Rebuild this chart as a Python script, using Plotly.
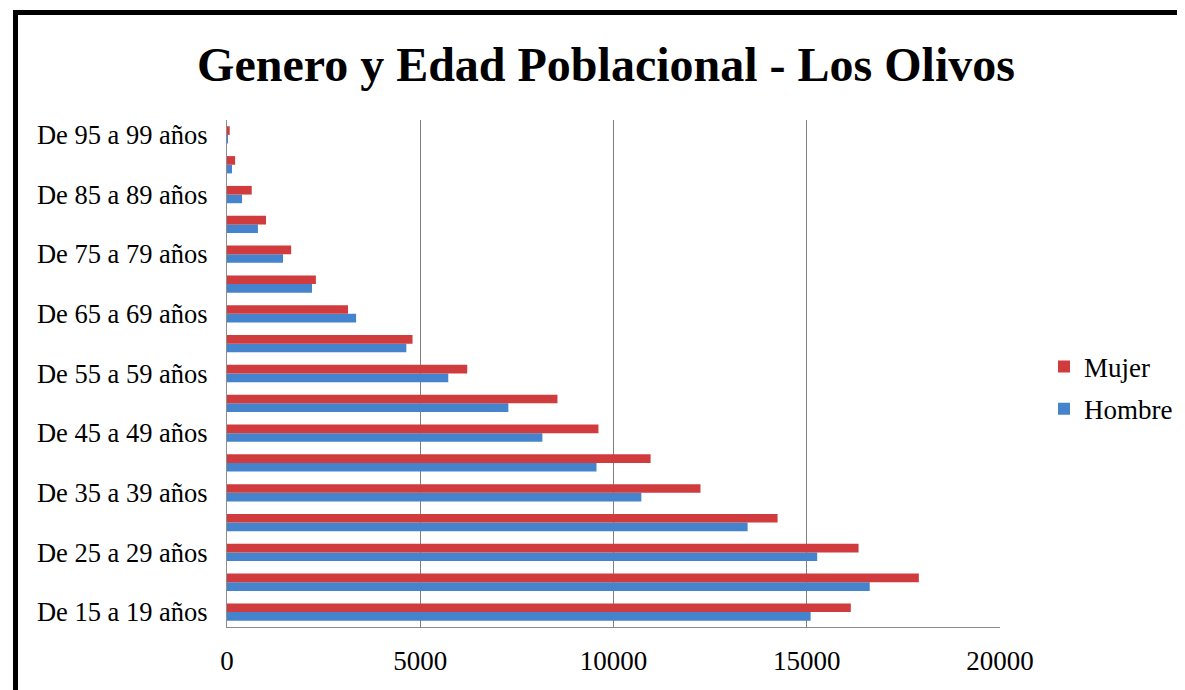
import plotly.graph_objects as go

categories = ["De 15 a 19 años", "De 20 a 24 años", "De 25 a 29 años", "De 30 a 34 años",
              "De 35 a 39 años", "De 40 a 44 años", "De 45 a 49 años", "De 50 a 54 años",
              "De 55 a 59 años", "De 60 a 64 años", "De 65 a 69 años", "De 70 a 74 años",
              "De 75 a 79 años", "De 80 a 84 años", "De 85 a 89 años", "De 90 a 94 años",
              "De 95 a 99 años"]
hombre = [15100, 16630, 15270, 13470, 10720, 9560, 8160, 7280, 5725, 4640, 3340, 2200,
          1450, 800, 390, 130, 20]
mujer = [16140, 17900, 16340, 14245, 12250, 10960, 9610, 8550, 6215, 4800, 3130, 2300,
         1660, 1010, 640, 210, 70]
shown_labels = categories[::2]
x_ticks = [0, 5000, 10000, 15000, 20000]

OFF = 8  # page body margin
W, H = 1185 - OFF, 690 - OFF
L = 227 - OFF
T = 120 - OFF
R = W - (1000 - OFF)
B = H - (627 - OFF)
PW, PH = W - L - R, H - T - B

def px(x):
    return (x - OFF - L) / PW

def py(y):
    return (H - B - (y - OFF)) / PH

serif = "Liberation Serif, Times New Roman, serif"

fig = go.Figure()
fig.add_trace(go.Bar(y=categories, x=hombre, name="Hombre", orientation="h",
                     marker=dict(color="#4583CC", line=dict(width=0)),
                     legendgroup="h", legendrank=2))
fig.add_trace(go.Bar(y=categories, x=mujer, name="Mujer", orientation="h",
                     marker=dict(color="#D03B3E", line=dict(width=0)),
                     legendgroup="m", legendrank=1))

fig.update_layout(
    width=W, height=H,
    margin=dict(l=L, r=R, t=T, b=B, autoexpand=False),
    paper_bgcolor="white", plot_bgcolor="white",
    barmode="group", bargap=0.42, bargroupgap=0,
    title=dict(text="<b>Genero y Edad Poblacional - Los Olivos</b>",
               x=px(606), xanchor="center", xref="paper",
               y=1 - (64 - OFF) / H, yanchor="middle",
               font=dict(family=serif, size=48, color="black")),
    font=dict(family=serif, size=27, color="black"),
    legend=dict(x=px(1044), xanchor="left", y=py(388), yanchor="middle",
                traceorder="grouped", tracegroupgap=4,
                font=dict(family=serif, size=27, color="black"),
                bgcolor="rgba(0,0,0,0)"),
    showlegend=True,
)
fig.update_xaxes(range=[0, 20000], tickvals=x_ticks, ticktext=[str(v) for v in x_ticks],
                 showgrid=True, gridcolor="#7f7f7f", gridwidth=1,
                 showline=True, linecolor="#8c8c8c", linewidth=1, automargin=False,
                 ticks="", zeroline=False, tickfont=dict(family=serif, size=27),
                 ticklabelstandoff=10)
fig.update_yaxes(categoryorder="array", categoryarray=categories,
                 tickvals=shown_labels, ticktext=shown_labels,
                 range=[-0.5, len(categories) - 0.5], automargin=False,
                 showgrid=False, showline=True, linecolor="#8c8c8c", linewidth=1,
                 ticks="", ticklabelstandoff=13, tickfont=dict(family=serif, size=26.5))

# outer black frame (top and left edges)
fig.add_shape(type="line", xref="paper", yref="paper",
              x0=px(13), x1=px(1200), y0=py(12.5), y1=py(12.5),
              line=dict(color="black", width=5))
fig.add_shape(type="line", xref="paper", yref="paper",
              x0=px(15.5), x1=px(15.5), y0=py(10), y1=py(710),
              line=dict(color="black", width=5))

fig.write_html("out.html")
